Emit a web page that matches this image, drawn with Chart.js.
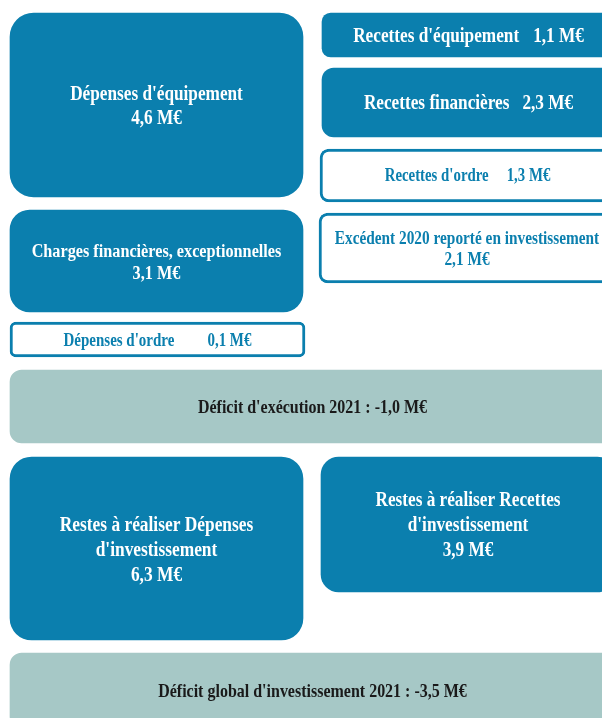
<!DOCTYPE html>
<html>
<head>
<meta charset="utf-8">
<script src="https://cdn.jsdelivr.net/npm/chart.js@4.4.0/dist/chart.umd.min.js"></script>
<style>
  html, body { margin: 0; padding: 0; background: #fff; }
  #wrap { width: 602px; height: 718px; }
</style>
</head>
<body>
<div id="wrap"><canvas id="chart" width="602" height="718"></canvas></div>
<script>
const categories = [
    "Dépenses d'équipement",
    "Charges financières, exceptionnelles",
    "Dépenses d'ordre",
    "Recettes d'équipement",
    "Recettes financières",
    "Recettes d'ordre",
    "Excédent 2020 reporté en investissement",
    "Déficit d'exécution 2021",
    "Restes à réaliser Dépenses d'investissement",
    "Restes à réaliser Recettes d'investissement",
    "Déficit global d'investissement 2021",
];
const values = [4.6, 3.1, 0.1, 1.1, 2.3, 1.3, 2.1, -1.0, 6.3, 3.9, -3.5];
const unit = 'M€';

// where each box sits, in the chart's own units (x 0..602, y 0..718 top down)
// tpl: '\n' = new line, '|' = gap of `gap` px between label and amount
const layout = [
    { x: [10, 303], y: [13, 197], r: 24, kind: 'fill', size: 21, lh: 23.5, tpl: '{c}\n{v}' },
    { x: [10, 303], y: [210, 312], r: 20, kind: 'fill', size: 19.8, lh: 22, tpl: '{c}\n{v}' },
    { x: [10, 305], y: [322, 357], r: 6, kind: 'line', size: 18.3, gap: 33, tpl: '{c}|{v}' },
    { x: [322, 615], y: [13, 57], r: 9, kind: 'fill', size: 21, gap: 14, tpl: '{c}|{v}' },
    { x: [322, 615], y: [68, 137], r: 12, kind: 'fill', size: 21, gap: 13, tpl: '{c}|{v}' },
    { x: [320, 615], y: [149, 202], r: 9, kind: 'line', size: 18.1, gap: 18, tpl: '{c}|{v}' },
    { x: [319, 615], y: [213, 283], r: 9, kind: 'line', size: 18.7, lh: 21, tpl: '{c}\n{v}' },
    { x: [10, 615], y: [370, 443], r: 12, kind: 'total', size: 19.5, tpl: '{c} : {v}' },
    { x: [10, 303], y: [457, 640], r: 22, kind: 'fill', size: 21.2, lh: 25, wrap: 220, tpl: '{c}\n{v}' },
    { x: [321, 615], y: [457, 592], r: 18, kind: 'fill', size: 21, lh: 25, wrap: 220, tpl: '{c}\n{v}' },
    { x: [10, 615], y: [653, 728], r: 12, kind: 'total', size: 19.5, tpl: '{c} : {v}' },
];

const BLUE = '#0b7fae';
const GREEN = '#a6c8c6';
const SQUEEZE = 0.82;

const fmt = (v) => v.toFixed(1).replace('.', ',') + ' ' + unit;

function wrapText(ctx, text, maxW) {
    const words = text.split(' ');
    const out = [];
    let cur = '';
    words.forEach((w) => {
        const test = cur ? cur + ' ' + w : w;
        if (cur && ctx.measureText(test).width * SQUEEZE > maxW) {
            out.push(cur);
            cur = w;
        } else {
            cur = test;
        }
    });
    if (cur) out.push(cur);
    return out;
}

const boxText = {
    id: 'boxText',
    afterDatasetsDraw(chart) {
        const ctx = chart.ctx;
        chart.data.datasets.forEach((ds, i) => {
            const el = chart.getDatasetMeta(i).data[0];
            const L = layout[i];
            ctx.save();
            ctx.font = 'bold ' + L.size + 'px "Liberation Serif", "Times New Roman", serif';
            ctx.fillStyle = L.kind === 'fill' ? '#ffffff' : (L.kind === 'line' ? BLUE : '#1a1a1a');
            ctx.textBaseline = 'alphabetic';
            let lines = [];
            L.tpl.split('\n').forEach((part) => {
                if (part === '{c}' && L.wrap) {
                    lines = lines.concat(wrapText(ctx, categories[i], L.wrap));
                } else {
                    lines.push(part.replace('{c}', categories[i]).replace('{v}', fmt(values[i])));
                }
            });
            const lh = L.lh || L.size * 1.2;
            const cx = el.x;
            const cy = (el.y + el.base) / 2 + 0.331 * L.size;
            lines.forEach((t, k) => {
                const parts = t.split('|');
                const widths = parts.map((p) => ctx.measureText(p).width * SQUEEZE);
                const total = widths.reduce((a, b) => a + b, 0) + (parts.length - 1) * (L.gap || 0);
                let x = cx - total / 2;
                const y = cy + (k - (lines.length - 1) / 2) * lh;
                parts.forEach((p, j) => {
                    ctx.save();
                    ctx.translate(x, y);
                    ctx.scale(SQUEEZE, 1);
                    ctx.textAlign = 'left';
                    ctx.fillText(p, 0, 0);
                    ctx.restore();
                    x += widths[j] + (L.gap || 0);
                });
            });
            ctx.restore();
        });
    },
};

const datasets = categories.map((c, i) => {
    const L = layout[i];
    return {
        label: c,
        data: [{ x: (L.x[0] + L.x[1]) / 2, y: L.y }],
        stack: 'boxes',
        backgroundColor: L.kind === 'fill' ? BLUE : (L.kind === 'line' ? '#ffffff' : GREEN),
        borderColor: BLUE,
        borderWidth: L.kind === 'line' ? 3 : 0,
        borderRadius: L.r,
        borderSkipped: false,
        barThickness: (ctx) => {
            const s = ctx.chart.scales.x;
            const w = s.getPixelForValue(L.x[1]) - s.getPixelForValue(L.x[0]);
            return isFinite(w) && w > 0 ? w : 10;
        },
    };
});

const chart = new Chart(document.getElementById('chart').getContext('2d'), {
    type: 'bar',
    data: { datasets: datasets },
    options: {
        responsive: false,
        animation: false,
        layout: { padding: 0 },
        scales: {
            x: { type: 'linear', min: 0, max: 602, offset: false, display: false },
            y: { type: 'linear', min: 0, max: 718, reverse: true, stacked: false, display: false },
        },
        plugins: {
            legend: { display: false },
            tooltip: { enabled: false },
        },
    },
    plugins: [boxText],
});
</script>
</body>
</html>
